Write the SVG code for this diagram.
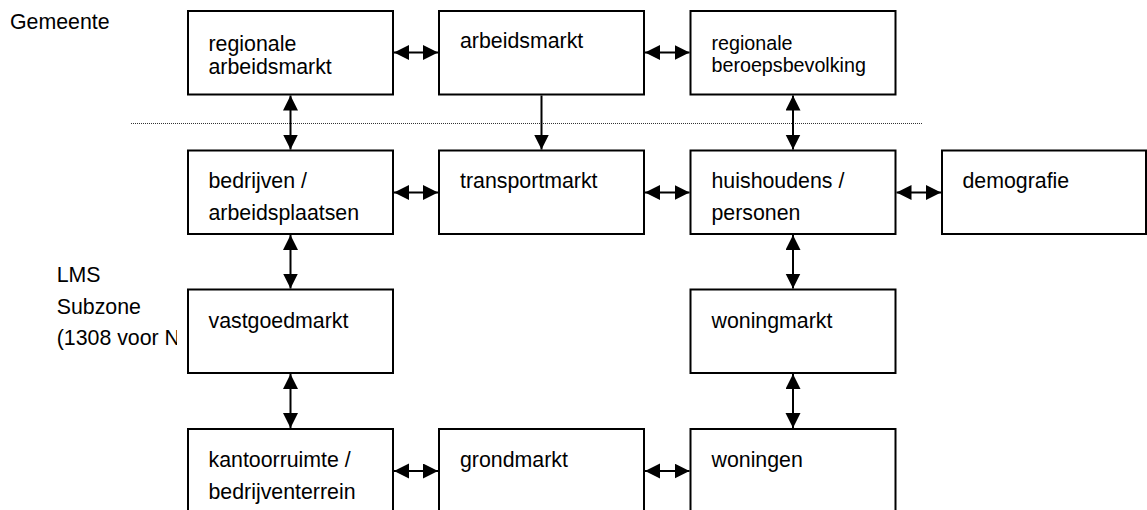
<svg xmlns="http://www.w3.org/2000/svg" width="1147" height="510" viewBox="0 0 1147 510">
<style>
.box{fill:#fff;stroke:#000;stroke-width:2}
.t{font-family:"Liberation Sans",Arial,sans-serif;font-size:21.33px;fill:#000}
.s{font-size:19.7px}
.c{stroke:#000;stroke-width:2;fill:none}
</style>
<defs>
<marker id="ah" markerUnits="userSpaceOnUse" markerWidth="16" markerHeight="16" refX="15" refY="7.5" orient="auto-start-reverse" viewBox="0 0 16 16">
<path d="M0,0 L15,7.5 L0,15 z" fill="#000"/>
</marker>
<clipPath id="lclip"><rect x="0" y="250" width="177" height="120"/></clipPath>
</defs>
<rect width="1147" height="510" fill="#fff"/>
<g id="labels">
<text class="t" x="10" y="29.3">Gemeente</text>
<g clip-path="url(#lclip)">
<text class="t" x="56.7" y="282">LMS</text>
<text class="t" x="56.7" y="314">Subzone</text>
<text class="t" x="56.7" y="345.3">(1308 voor N</text>
</g>
<line x1="131" y1="123.5" x2="922" y2="123.5" stroke="#333" stroke-width="1" stroke-dasharray="1 1"/>
</g>
<g id="connectors">
<line class="c" x1="290.5" y1="95.5" x2="290.5" y2="149.5" marker-start="url(#ah)" marker-end="url(#ah)"/>
<line class="c" x1="541.5" y1="95.5" x2="541.5" y2="149.5" marker-end="url(#ah)"/>
<line class="c" x1="793" y1="95.5" x2="793" y2="149.5" marker-start="url(#ah)" marker-end="url(#ah)"/>
<line class="c" x1="290.5" y1="235" x2="290.5" y2="288.5" marker-start="url(#ah)" marker-end="url(#ah)"/>
<line class="c" x1="793" y1="235" x2="793" y2="288.5" marker-start="url(#ah)" marker-end="url(#ah)"/>
<line class="c" x1="290.5" y1="374" x2="290.5" y2="428" marker-start="url(#ah)" marker-end="url(#ah)"/>
<line class="c" x1="793" y1="374" x2="793" y2="428" marker-start="url(#ah)" marker-end="url(#ah)"/>
<line class="c" x1="394" y1="52.5" x2="438" y2="52.5" marker-start="url(#ah)" marker-end="url(#ah)"/>
<line class="c" x1="645" y1="52.5" x2="689.5" y2="52.5" marker-start="url(#ah)" marker-end="url(#ah)"/>
<line class="c" x1="394" y1="192.5" x2="438" y2="192.5" marker-start="url(#ah)" marker-end="url(#ah)"/>
<line class="c" x1="645" y1="192.5" x2="689.5" y2="192.5" marker-start="url(#ah)" marker-end="url(#ah)"/>
<line class="c" x1="896.5" y1="192.5" x2="941" y2="192.5" marker-start="url(#ah)" marker-end="url(#ah)"/>
<line class="c" x1="394" y1="471" x2="438" y2="471" marker-start="url(#ah)" marker-end="url(#ah)"/>
<line class="c" x1="645" y1="471" x2="689.5" y2="471" marker-start="url(#ah)" marker-end="url(#ah)"/>
</g>
<g id="n-regionale-arbeidsmarkt"><rect class="box" x="188" y="11" width="205" height="83.5"/><text class="t" x="208.5" y="51">regionale</text><text class="t" x="208.5" y="74">arbeidsmarkt</text></g>
<g id="n-arbeidsmarkt"><rect class="box" x="439" y="11" width="205" height="83.5"/><text class="t" x="460" y="48">arbeidsmarkt</text></g>
<g id="n-regionale-beroepsbevolking"><rect class="box" x="690.5" y="11" width="205" height="83.5"/><text class="t s" x="711.5" y="50">regionale</text><text class="t s" x="711.5" y="71.7">beroepsbevolking</text></g>
<g id="n-bedrijven"><rect class="box" x="188" y="150.5" width="205" height="83.5"/><text class="t" x="208.5" y="188.3">bedrijven /</text><text class="t" x="208.5" y="220">arbeidsplaatsen</text></g>
<g id="n-transportmarkt"><rect class="box" x="439" y="150.5" width="205" height="83.5"/><text class="t" x="460" y="188.3">transportmarkt</text></g>
<g id="n-huishoudens"><rect class="box" x="690.5" y="150.5" width="205" height="83.5"/><text class="t" x="711.5" y="188.3">huishoudens /</text><text class="t" x="711.5" y="220">personen</text></g>
<g id="n-demografie"><rect class="box" x="942" y="150.5" width="204" height="83.5"/><text class="t" x="962.5" y="188.3">demografie</text></g>
<g id="n-vastgoedmarkt"><rect class="box" x="188" y="289.5" width="205" height="83.5"/><text class="t" x="208.5" y="328.3">vastgoedmarkt</text></g>
<g id="n-woningmarkt"><rect class="box" x="690.5" y="289.5" width="205" height="83.5"/><text class="t" x="711.5" y="328.3">woningmarkt</text></g>
<g id="n-kantoorruimte"><rect class="box" x="188" y="429" width="205" height="83.5"/><text class="t" x="208.5" y="467.3">kantoorruimte /</text><text class="t" x="208.5" y="499.3">bedrijventerrein</text></g>
<g id="n-grondmarkt"><rect class="box" x="439" y="429" width="205" height="83.5"/><text class="t" x="460" y="467">grondmarkt</text></g>
<g id="n-woningen"><rect class="box" x="690.5" y="429" width="205" height="83.5"/><text class="t" x="711.5" y="467">woningen</text></g>
</svg>
